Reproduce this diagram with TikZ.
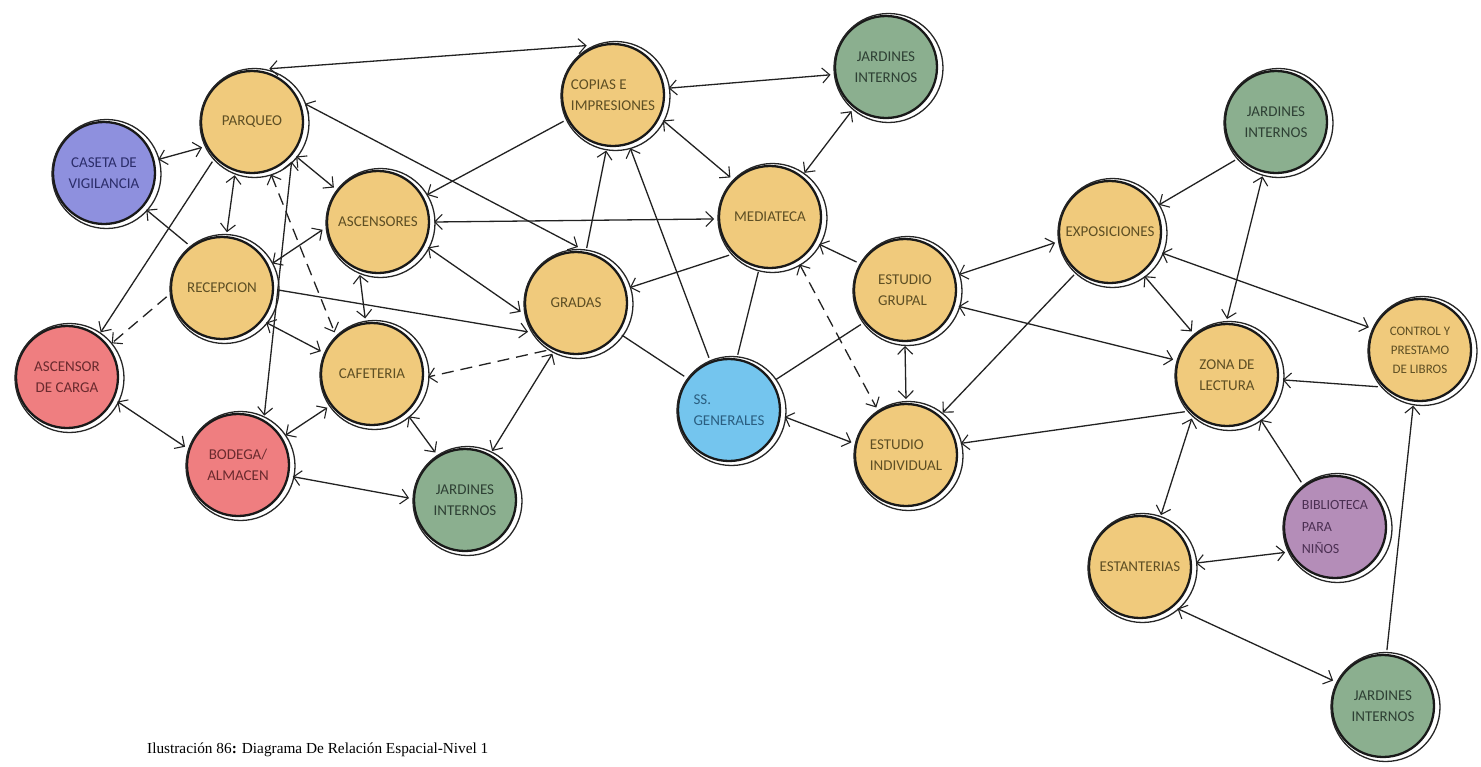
\documentclass[tikz,border=0pt]{standalone}
\usepackage{fontspec}
\setmainfont{Liberation Serif}
\newfontfamily\nodefont{Carlito}
\usetikzlibrary{arrows.meta}
\definecolor{cyel}{HTML}{F0CA7C}
\definecolor{cgrn}{HTML}{8BAF8F}
\definecolor{cvio}{HTML}{8E90DE}
\definecolor{cred}{HTML}{EF7E80}
\definecolor{csky}{HTML}{74C5EE}
\definecolor{cpur}{HTML}{B48DB8}
\definecolor{tyel}{HTML}{5E4F24}
\definecolor{tgrn}{HTML}{2E4034}
\definecolor{tvio}{HTML}{2B2D6A}
\definecolor{tred}{HTML}{6A2A2E}
\definecolor{tsky}{HTML}{2A5E80}
\definecolor{tpur}{HTML}{4B2F52}
\definecolor{lnk}{HTML}{222222}
\tikzset{
  place/.style={circle, draw=black!90, line width=2.3pt, minimum size=102pt,
    inner sep=0pt, outer sep=5pt, align=center,
    font=\nodefont\fontsize{15}{21}\selectfont},
  yel/.style={place, fill=cyel, text=tyel},
  grn/.style={place, fill=cgrn, text=tgrn},
  vio/.style={place, fill=cvio, text=tvio},
  red/.style={place, fill=cred, text=tred},
  sky/.style={place, fill=csky, text=tsky},
  pur/.style={place, fill=cpur, text=tpur},
  ring/.style={draw=black!85, line width=1.3pt},
  link/.style={draw=lnk, line width=1.3pt},
  dsh/.style={dash pattern=on 12pt off 7pt},
  >={Straight Barb[length=7.5pt,width=15pt,line width=1.1pt]}
}
\begin{document}
\begin{tikzpicture}[x=1pt,y=-1pt]
\useasboundingbox (0,0) rectangle (1481,766);
\fill[white] (0,0) rectangle (1481,766);
% nodes
\node[yel] (parq)     at (252,122) {PARQUEO};
\node[vio] (caseta)   at (104,173) {CASETA DE\\VIGILANCIA};
\node[yel] (ascens)   at (378,222) {ASCENSORES};
\node[yel] (recep)    at (222,288) {RECEPCION};
\node[red] (asccarga) at (67,377)  {ASCENSOR\\DE CARGA};
\node[yel] (cafe)     at (372,374) {CAFETERIA};
\node[red] (bodega)   at (238,465) {BODEGA/\\ALMACEN};
\node[grn] (jardbl)   at (465,500) {JARDINES\\INTERNOS};
\node[yel, align=left] (copias) at (613,95) {COPIAS E\\IMPRESIONES};
\node[grn] (jardt)    at (886,67)  {JARDINES\\INTERNOS};
\node[yel] (med)      at (770,217) {MEDIATECA};
\node[yel] (gradas)   at (576,303) {GRADAS};
\node[sky, align=left] (ssg) at (729,410) {SS.\\GENERALES};
\node[yel, align=left] (egrup) at (905,290) {ESTUDIO\\GRUPAL};
\node[yel, align=left] (eind)  at (906,455) {ESTUDIO\\INDIVIDUAL};
\node[yel] (expo)     at (1110,232) {EXPOSICIONES};
\node[grn] (jardrt)   at (1276,122) {JARDINES\\INTERNOS};
\node[yel] (zona)     at (1227,375) {ZONA DE\\LECTURA};
\node[yel, font=\nodefont\fontsize{13}{19}\selectfont] (control) at (1420,350) {CONTROL Y\\PRESTAMO\\DE LIBROS};
\node[yel] (estant)   at (1140,567) {ESTANTERIAS};
\node[pur, align=left, font=\nodefont\fontsize{14}{22}\selectfont] (biblio) at (1335,527) {BIBLIOTECA\\PARA\\NIÑOS};
\node[grn] (jardbr)   at (1383,706) {JARDINES\\INTERNOS};
% outer sketch rings
\foreach \n in {parq,caseta,ascens,recep,asccarga,cafe,bodega,jardbl,copias,jardt,med,gradas,ssg,egrup,eind,expo,jardrt,zona,control,estant,biblio,jardbr}
  \draw[ring] ([shift={(2.5pt,-1pt)}]\n.center) circle[radius=54.5pt];
% connectors
\draw[link,<->] (parq.72) -- (copias.118);
\draw[link,<->] (parq.207) -- (caseta.14);
\draw[link,<->] (parq.252) -- (recep.85);
\draw[link,<->] (parq.322) -- (ascens.142);
\draw[link,<->] (parq.19) -- (gradas.88);
\draw[link,->] (parq.225) -- (asccarga.53);
\draw[link,<->] (parq.315) -- (bodega.62);
\draw[link,dsh,<->] (parq.290) -- (cafe.132);
\draw[link,->] (recep.128) -- (caseta.319);
\draw[link,dsh,->] (recep.189) -- (asccarga.37);
\draw[link,<->] (recep.26) -- (ascens.188);
\draw[link,<->] (recep.322) -- (cafe.156);
\draw[link,->] (recep.358) -- (gradas.211);
\draw[link,<->] (ascens.251) -- (cafe.97);
\draw[link,<->] (ascens.333) -- (gradas.189);
\draw[link,->] (copias.208) -- (ascens.29);
\draw[link,<->] (ascens.0) -- (med.182);
\draw[link,<->] (asccarga.334) -- (bodega.161);
\draw[link,<->] (cafe.217) -- (bodega.32);
\draw[link,dsh,->] (gradas.238) -- (cafe.357);
\draw[link,<->] (cafe.311) -- (jardbl.122);
\draw[link,<->] (bodega.348) -- (jardbl.178);
\draw[link,<->] (gradas.245) -- (jardbl.61);
\draw[link,->] (gradas.79) -- (copias.263);
\draw[link,->] (ssg.111) -- (copias.288);
\draw[link,<->] (copias.333) -- (med.135);
\draw[link,<->] (copias.7) -- (jardt.188);
\draw[link,<->] (jardt.232) -- (med.52);
\draw[link,->] (med.223) -- (gradas.16);
\draw[link] (med.258) -- (ssg.81);
\draw[link] (gradas.325) -- (ssg.143);
\draw[link,->] (egrup.150) -- (med.331);
\draw[link,dsh,<->] (med.302) -- (eind.122);
\draw[link] (ssg.33) -- (egrup.218);
\draw[link,<->] (ssg.353) -- (eind.167);
\draw[link,<->] (egrup.270) -- (eind.90);
\draw[link,<->] (expo.191) -- (egrup.16);
\draw[link,<->] (zona.164) -- (egrup.343);
\draw[link,->] (expo.230) -- (eind.49);
\draw[link,->] (zona.221) -- (eind.12);
\draw[link,->] (jardrt.223) -- (expo.29);
\draw[link,<->] (jardrt.256) -- (zona.90);
\draw[link,<->] (expo.308) -- (zona.129);
\draw[link,<->] (expo.338) -- (control.156);
\draw[link,->] (control.221) -- (zona.355);
\draw[link,<->] (zona.231) -- (estant.68);
\draw[link,->] (biblio.127) -- (zona.307);
\draw[link,<->] (estant.4) -- (biblio.207);
\draw[link,<->] (estant.312) -- (jardbr.153);
\draw[link,->] (jardbr.86) -- (control.263);
% caption
\node[anchor=base west, inner sep=0pt, font=\fontsize{15.3}{18}\selectfont] (cap) at (147,753)
  {Ilustración 86\textbf{:} Diagrama De Relación Espacial-Nivel 1};
\end{tikzpicture}
\end{document}
